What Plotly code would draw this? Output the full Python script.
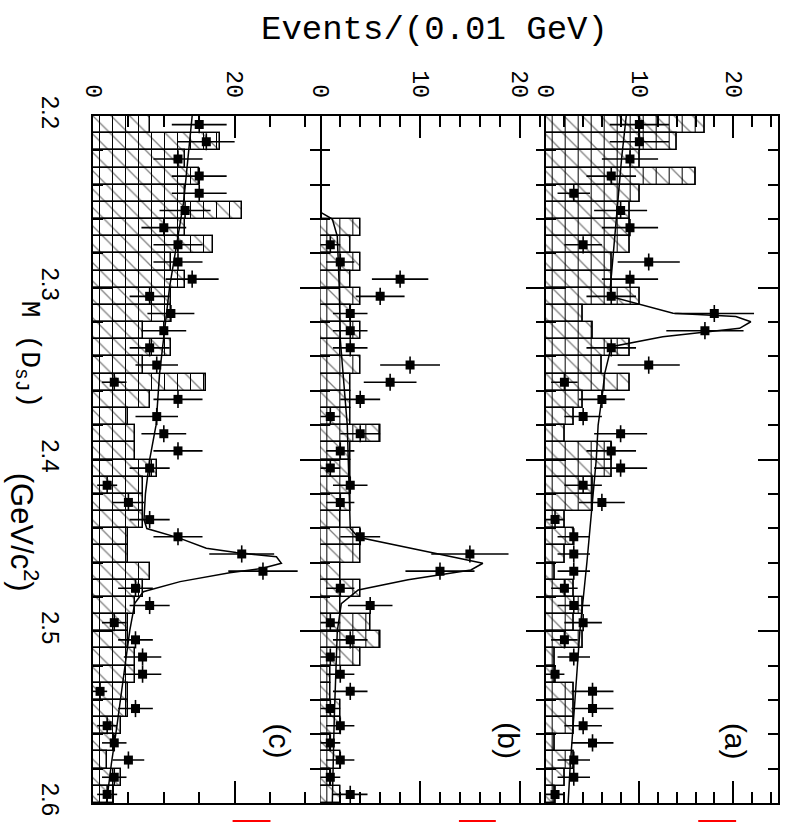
import plotly.graph_objects as go

# ---------------- data ----------------
mass_centers = [2.205, 2.215, 2.225, 2.235, 2.245, 2.255, 2.265, 2.275, 2.285, 2.295,
                2.305, 2.315, 2.325, 2.335, 2.345, 2.355, 2.365, 2.375, 2.385, 2.395,
                2.405, 2.415, 2.425, 2.435, 2.445, 2.455, 2.465, 2.475, 2.485, 2.495,
                2.505, 2.515, 2.525, 2.535, 2.545, 2.555, 2.565, 2.575, 2.585, 2.595]
bin_width = 0.01

# panel (a)
a_data = [10, 10, 9, 7, 3, 8, 9, 4, 11, 9, 7, 18, 17, 7, 11, 2, 6, 4, 8, 7,
          8, 4, 6, 1, 3, 3, 3, 2, 3, 4, 2, 3, 1, 5, 5, 4, 5, 3, 3, 1]
a_hist = [17, 14, 10, 16, 10, 9, 9, 9, 7, 7, 10, 4, 5, 9, 6, 9, 4, 3, 2, 7,
          7, 5, 5, 2, 3, 2, 1, 3, 4, 3, 4, 1, 1, 3, 3, 3, 1, 3, 2, 1]
a_fit_m = [2.200, 2.225, 2.250, 2.275, 2.300, 2.3052, 2.3149, 2.3168, 2.3198, 2.3236,
           2.3285, 2.3343, 2.350, 2.360, 2.380, 2.400, 2.430, 2.460, 2.500, 2.540, 2.580, 2.600]
a_fit_v = [8.6, 8.1, 7.7, 7.3, 6.9, 7.0, 13.6, 20.3, 21.9, 20.7,
           12.5, 7.0, 6.3, 6.1, 5.6, 5.4, 4.9, 4.4, 3.65, 3.1, 2.6, 2.4]

# panel (b)
b_data = [0, 0, 0, 0, 0, 0, 0, 1, 2, 8, 6, 3, 3, 3, 9, 7, 4, 1, 4, 2,
          1, 3, 2, 0, 4, 15, 12, 2, 5, 1, 3, 1, 2, 3, 1, 2, 1, 2, 1, 3]
b_hist = [0, 0, 0, 0, 0, 0, 4, 3, 4, 3, 4, 3, 4, 2, 4, 3, 3, 3, 6, 3,
          3, 3, 3, 2, 4, 4, 2, 4, 2, 5, 6, 4, 1, 1, 2, 2, 1, 2, 1, 2]
b_fit_m = [2.256, 2.260, 2.270, 2.300, 2.330, 2.360, 2.380, 2.400, 2.430, 2.440,
           2.4453, 2.4537, 2.4604, 2.4643, 2.470, 2.476, 2.484, 2.500, 2.550, 2.600]
b_fit_v = [0.0, 1.2, 1.7, 1.9, 2.0, 2.4, 2.7, 2.8, 2.9, 3.0,
           3.8, 10.8, 16.3, 15.1, 8.8, 3.8, 2.1, 1.7, 1.4, 1.2]

# panel (c)
c_data = [15, 16, 12, 15, 15, 13, 10, 12, 12, 14, 8, 11, 10, 8, 9, 3, 12, 9, 10, 12,
          8, 2, 5, 8, 12, 21, 24, 6, 8, 3, 6, 7, 7, 1, 6, 2, 3, 5, 3, 2]
c_hist = [8, 18, 13, 15, 13, 21, 13, 17, 11, 13, 11, 11, 7, 11, 7, 16, 8, 5, 6, 6,
          9, 7, 7, 7, 5, 5, 8, 7, 6, 5, 5, 6, 6, 5, 5, 4, 3, 2, 4, 3]
c_fit_m = [2.200, 2.250, 2.275, 2.300, 2.350, 2.380, 2.400, 2.420, 2.435, 2.4402,
           2.4455, 2.4517, 2.4542, 2.4566, 2.4604, 2.4634, 2.4659, 2.4711, 2.4770,
           2.4837, 2.4993, 2.528, 2.5575, 2.577, 2.600]
c_fit_v = [14.0, 12.8, 11.8, 10.8, 9.4, 8.9, 8.0, 7.4, 7.2, 7.6,
           12.0, 16.0, 20.2, 25.9, 26.6, 23.8, 19.3, 12.3, 7.1,
           5.9, 5.2, 4.3, 3.3, 2.6, 1.9]

panel_labels = ["(c)", "(b)", "(a)"]

# ---------------- geometry ----------------
W, H = 786, 823
L, R, T, B = 93, 6, 116, 20
PW = W - L - R
PH = H - T - B


def px(xp):
    return (xp - L) / PW


def py(yp):
    return (H - B - yp) / PH


domains = [[0.0, px(321)], [px(321), px(547)], [px(547), 1.0]]
xranges = [[0, 32.1], [0, 22.6], [0, 24.8]]
xdtick = [20, 10, 10]
xminor = [5, 2, 2]

panels = [
    (c_data, c_hist, c_fit_m, c_fit_v),
    (b_data, b_hist, b_fit_m, b_fit_v),
    (a_data, a_hist, a_fit_m, a_fit_v),
]

fig = go.Figure()

for i, (data, hist, fm, fv) in enumerate(panels):
    xa = "x" if i == 0 else f"x{i+1}"
    ya = "y" if i == 0 else f"y{i+1}"
    hx = [v for v in hist if v > 0]
    hy = [m for m, v in zip(mass_centers, hist) if v > 0]
    # hatched histogram: diagonal component
    fig.add_trace(go.Bar(
        orientation="h", y=hy, x=hx, width=bin_width,
        marker=dict(color="white", line=dict(color="black", width=1.3),
                    pattern=dict(shape="\\", fgcolor="black", size=13,
                                 solidity=0.1, fillmode="overlay")),
        xaxis=xa, yaxis=ya, showlegend=False, hoverinfo="skip"))
    # hatched histogram: vertical component
    fig.add_trace(go.Bar(
        orientation="h", y=hy, x=hx, width=bin_width,
        marker=dict(color="black", line=dict(color="black", width=1.3),
                    pattern=dict(shape="|", fgcolor="black",
                                 bgcolor="rgba(0,0,0,0)", size=13,
                                 solidity=0.08, fillmode="replace")),
        xaxis=xa, yaxis=ya, showlegend=False, hoverinfo="skip"))
    # fit curve
    fig.add_trace(go.Scatter(
        x=fv, y=fm, mode="lines", line=dict(color="black", width=1.5),
        xaxis=xa, yaxis=ya, showlegend=False, hoverinfo="skip"))
    # data points (non-empty bins)
    dx = [v for v in data if v > 0]
    dy = [m for m, v in zip(mass_centers, data) if v > 0]
    de = [v ** 0.5 for v in dx]
    fig.add_trace(go.Scatter(
        x=dx, y=dy, mode="markers",
        marker=dict(symbol="square", size=9, color="black"),
        error_x=dict(type="data", array=de, thickness=1.6, width=0, color="black"),
        error_y=dict(type="constant", value=bin_width / 2, thickness=1.6, width=0,
                     color="black"),
        xaxis=xa, yaxis=ya, showlegend=False, hoverinfo="skip"))

layout = dict(
    width=W, height=H,
    margin=dict(l=L, r=R, t=T, b=B),
    paper_bgcolor="white", plot_bgcolor="white",
    barmode="overlay", bargap=0,
)

for i in range(3):
    xkey = "xaxis" if i == 0 else f"xaxis{i+1}"
    ykey = "yaxis" if i == 0 else f"yaxis{i+1}"
    ya = "y" if i == 0 else f"y{i+1}"
    xa = "x" if i == 0 else f"x{i+1}"
    layout[xkey] = dict(
        domain=domains[i], range=xranges[i], anchor=ya, side="top",
        showline=True, linecolor="black", linewidth=2, mirror="ticks",
        ticks="inside", ticklen=22, tickwidth=1.5, tickcolor="black",
        tick0=0, dtick=xdtick[i],
        minor=dict(ticks="inside", dtick=xminor[i], ticklen=11, tickwidth=1.5,
                   tickcolor="black", showgrid=False),
        showgrid=False, zeroline=False, tickangle=90,
        tickfont=dict(family="Liberation Mono", size=23, color="black"),
        ticklabelstandoff=8,
    )
    layout[ykey] = dict(
        domain=[0, 1], range=[2.6, 2.2], anchor=xa,
        showline=(i != 1), linecolor="black", linewidth=2, mirror="ticks",
        ticks="inside", ticklen=20, tickwidth=1.5, tickcolor="black",
        tick0=2.2, dtick=0.1, tickformat=".1f",
        minor=dict(ticks="inside", dtick=0.02, ticklen=10, tickwidth=1.5,
                   tickcolor="black", showgrid=False),
        showgrid=False, zeroline=False,
        showticklabels=(i == 0), tickangle=90,
        tickfont=dict(family="Liberation Sans", size=24, color="black"),
        ticklabelstandoff=20,
    )

annotations = [
    dict(text="Events/(0.01 GeV)", x=px(435), y=py(30), xref="paper", yref="paper",
         showarrow=False, xanchor="center", yanchor="middle",
         font=dict(family="Liberation Mono", size=34, color="black")),
    dict(text="M (D<sub>sJ</sub>)", x=px(28), y=py(355), xref="paper", yref="paper",
         showarrow=False, xanchor="center", yanchor="middle", textangle=90,
         font=dict(family="Liberation Mono", size=28, color="black")),
    dict(text="(GeV/c<sup>2</sup>)", x=px(24), y=py(532), xref="paper", yref="paper",
         showarrow=False, xanchor="center", yanchor="middle", textangle=90,
         font=dict(family="Liberation Sans", size=31, color="black")),
]
label_pos = [(281, 741), (510, 741), (738, 741)]
for lab, (lx, ly) in zip(panel_labels, label_pos):
    annotations.append(dict(text=lab, x=px(lx), y=py(ly), xref="paper", yref="paper",
                            showarrow=False, xanchor="center", yanchor="middle",
                            textangle=90,
                            font=dict(family="Liberation Sans", size=30, color="black")))
layout["annotations"] = annotations

shapes = []
for x0, x1 in [(233, 271), (460, 497), (700, 738)]:
    shapes.append(dict(type="line", xref="paper", yref="paper",
                       x0=px(x0), x1=px(x1), y0=py(821), y1=py(821),
                       line=dict(color="red", width=2)))
layout["shapes"] = shapes

fig.update_layout(**layout)
fig.write_html("out.html")
